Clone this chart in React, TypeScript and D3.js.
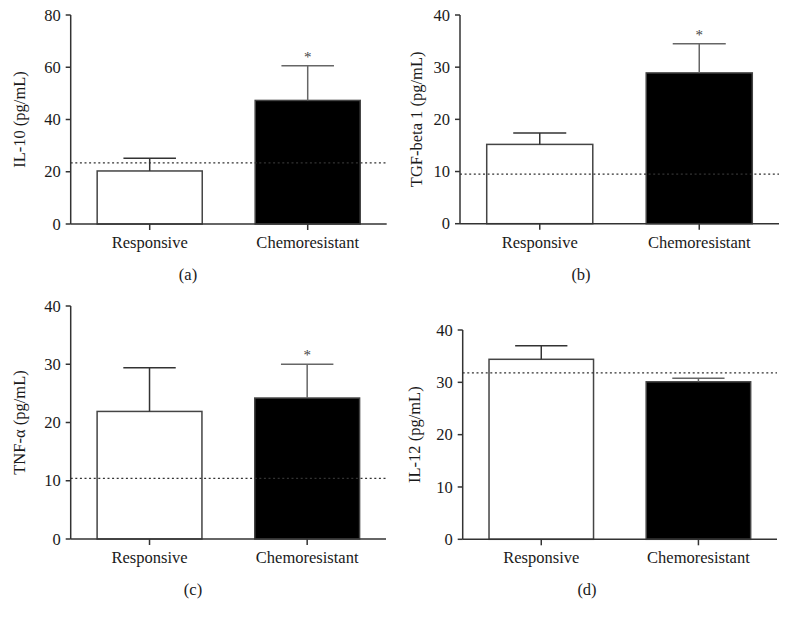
import React from 'react';
import * as d3 from 'd3';

// Data
const groups = ['Responsive', 'Chemoresistant'];
const panelTags = ['(a)', '(b)', '(c)', '(d)'];
const yLabels = ['IL-10 (pg/mL)', 'TGF-beta 1 (pg/mL)', 'TNF-\u03b1 (pg/mL)', 'IL-12 (pg/mL)'];
const yMax = [80, 40, 40, 40];
const yTickStep = [20, 10, 10, 10];
const responsiveMean = [20.3, 15.2, 21.9, 34.4];
const responsiveUpper = [25.2, 17.4, 29.4, 37.0];
const resistantMean = [47.3, 28.9, 24.2, 30.1];
const resistantUpper = [60.6, 34.5, 30.0, 30.8];
const referenceLine = [23.4, 9.5, 10.4, 31.8];
const significant = [true, true, true, false];

// Panel frames (layout only)
const frames = [
  { left: 70.7, right: 386.7, top: 15, bottom: 224, labelX: 19, tagX: 188 },
  { left: 460, right: 779, top: 15, bottom: 223.7, labelX: 416, tagX: 581 },
  { left: 70.7, right: 386, top: 306, bottom: 539, labelX: 19, tagX: 193 },
  { left: 462.7, right: 777, top: 330, bottom: 539.3, labelX: 414, tagX: 587 },
];

const FONT = '"Liberation Serif", "DejaVu Serif", serif';
const AXIS = '#333';
const FS = 16.5;

const Panel: React.FC<{ i: number }> = ({ i }) => {
  const f = frames[i];
  const x = d3.scaleBand<string>()
    .domain(groups)
    .range([f.left, f.right])
    .paddingInner(0.335)
    .paddingOuter(0.1675);
  const y = d3.scaleLinear().domain([0, yMax[i]]).range([f.bottom, f.top]);
  const ticks = d3.range(0, yMax[i] + 1, yTickStep[i]);
  const means = [responsiveMean[i], resistantMean[i]];
  const uppers = [responsiveUpper[i], resistantUpper[i]];
  const bw = x.bandwidth();
  const capHalf = bw * 0.25;

  return (
    <g>
      {/* Bars */}
      {groups.map((g, k) => (
        <rect
          key={g}
          x={x(g)}
          y={y(means[k])}
          width={bw}
          height={f.bottom - y(means[k])}
          fill={k === 0 ? '#fff' : '#000'}
          stroke="#444"
          strokeWidth={1.5}
        />
      ))}

      {/* Error bars */}
      {groups.map((g, k) => {
        const cx = x(g)! + bw / 2;
        return (
          <g key={`err-${g}`} stroke={k === 0 ? '#333' : '#666'} strokeWidth={1.5}>
            <line x1={cx} x2={cx} y1={y(means[k])} y2={y(uppers[k])} />
            <line x1={cx - capHalf} x2={cx + capHalf} y1={y(uppers[k])} y2={y(uppers[k])} />
          </g>
        );
      })}

      {/* Significance marker */}
      {significant[i] && (
        <text
          x={x(groups[1])! + bw / 2}
          y={y(resistantUpper[i]) - 4}
          textAnchor="middle"
          fontFamily={FONT}
          fontSize={15}
          fill="#444"
        >
          *
        </text>
      )}

      {/* Reference (dotted) line */}
      <line
        x1={f.left}
        x2={f.right}
        y1={y(referenceLine[i])}
        y2={y(referenceLine[i])}
        stroke="#333"
        strokeWidth={1.3}
        strokeDasharray="2,2.6"
      />

      {/* Y axis */}
      <line x1={f.left} x2={f.left} y1={f.top} y2={f.bottom} stroke={AXIS} strokeWidth={1.5} />
      {ticks.map(t => (
        <g key={`yt-${t}`} transform={`translate(${f.left},${y(t)})`}>
          <line x1={-5} x2={0} stroke={AXIS} strokeWidth={1.5} />
          <text x={-10} dy="0.34em" textAnchor="end" fontFamily={FONT} fontSize={FS} fill="#1a1a1a">
            {t}
          </text>
        </g>
      ))}

      {/* X axis */}
      <line x1={f.left} x2={f.right} y1={f.bottom} y2={f.bottom} stroke={AXIS} strokeWidth={1.5} />
      {groups.map(g => (
        <g key={`xt-${g}`} transform={`translate(${x(g)! + bw / 2},${f.bottom})`}>
          <line y1={0} y2={6} stroke={AXIS} strokeWidth={1.5} />
          <text y={24} textAnchor="middle" fontFamily={FONT} fontSize={FS} fill="#1a1a1a">
            {g}
          </text>
        </g>
      ))}

      {/* Y label */}
      <text
        transform={`translate(${f.labelX},${(f.top + f.bottom) / 2}) rotate(-90)`}
        dy="0.35em"
        textAnchor="middle"
        fontFamily={FONT}
        fontSize={FS}
        fill="#1a1a1a"
      >
        {yLabels[i]}
      </text>

      {/* Panel tag */}
      <text x={f.tagX} y={f.bottom + 56} textAnchor="middle" fontFamily={FONT} fontSize={FS} fill="#1a1a1a">
        {panelTags[i]}
      </text>
    </g>
  );
};

const App: React.FC = () => (
  <svg
    width={789}
    height={625}
    style={{ position: 'absolute', left: 0, top: 0, background: '#fff' }}
  >
    <rect width={789} height={625} fill="#fff" />
    {frames.map((_, i) => (
      <Panel key={i} i={i} />
    ))}
  </svg>
);

export default App;
